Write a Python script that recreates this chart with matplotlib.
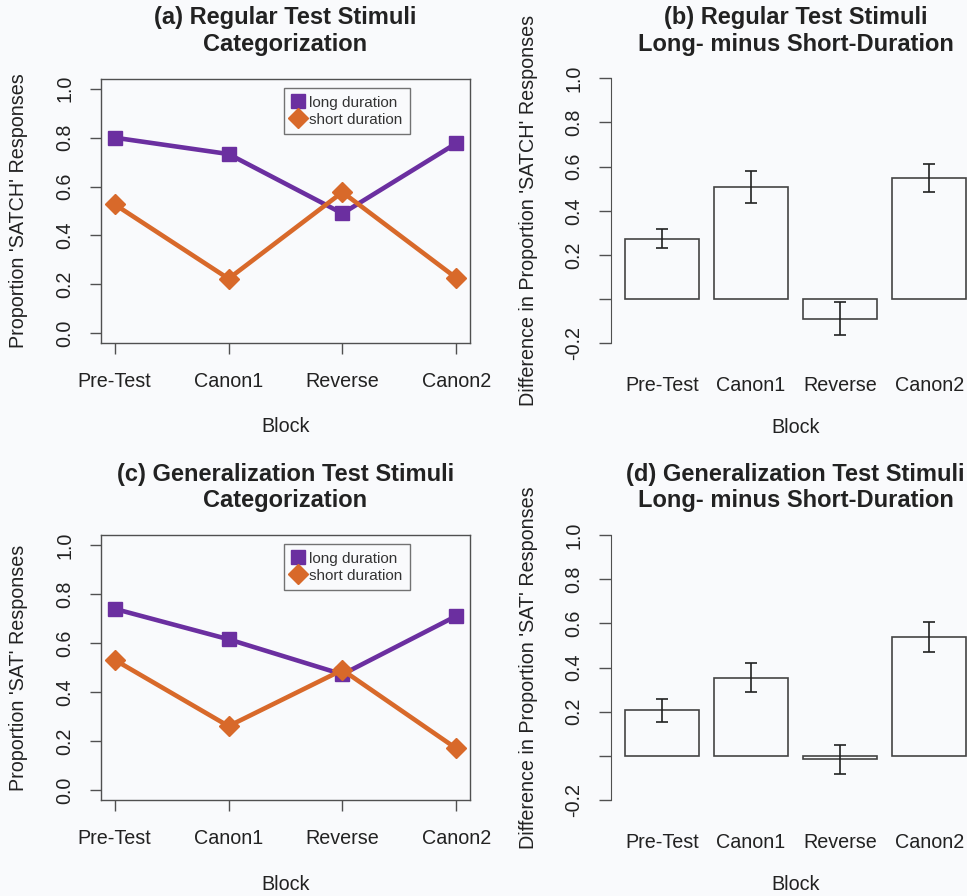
"""
Regular / generalization test stimuli: categorization and long-minus-short differences
"""
import numpy as np
import matplotlib.pyplot as plt
from matplotlib.lines import Line2D

blocks = ["Pre-Test", "Canon1", "Reverse", "Canon2"]

# proportions (line panels)
reg_long = [0.80, 0.733, 0.49, 0.777]
reg_short = [0.527, 0.223, 0.577, 0.226]
gen_long = [0.739, 0.615, 0.472, 0.71]
gen_short = [0.531, 0.261, 0.49, 0.170]

# long minus short differences (bar panels)
reg_diff = [0.274, 0.507, -0.089, 0.547]
reg_err = [0.043, 0.072, 0.075, 0.063]
gen_diff = [0.208, 0.354, -0.015, 0.537]
gen_err = [0.052, 0.065, 0.065, 0.068]

purple = "#6b2fa0"
orange = "#d8692a"
bg = "#f9fafc"
ink = "#222222"
axc = "#505050"

plt.rcParams["font.family"] = ["Liberation Sans", "DejaVu Sans"]
plt.rcParams["text.color"] = ink
plt.rcParams["axes.labelcolor"] = ink
plt.rcParams["xtick.color"] = axc
plt.rcParams["ytick.color"] = axc
plt.rcParams["xtick.labelcolor"] = ink
plt.rcParams["ytick.labelcolor"] = ink

W, H = 967, 896
fig = plt.figure(figsize=(W / 100, H / 100), dpi=100, facecolor=bg)

def px_axes(x0, x1, y0, y1):
    return fig.add_axes([x0 / W, 1 - y1 / H, (x1 - x0) / W, (y1 - y0) / H])

tick_fs = 14.2
title_fs = 17

def line_panel(ax, long_vals, short_vals, ylabel):
    ax.set_facecolor(bg)
    x = np.arange(1, len(blocks) + 1)
    ax.plot(x, long_vals, color=purple, lw=3.3, marker="s", ms=10, zorder=3)
    ax.plot(x, short_vals, color=orange, lw=3.3, marker="D", ms=10, zorder=3)
    ax.set_xlim(0.88, 4.12)
    ax.set_ylim(-0.04, 1.04)
    ax.set_xticks(x)
    ax.set_xticklabels(blocks, fontsize=tick_fs)
    yt = np.arange(0, 1.01, 0.2)
    ax.set_yticks(yt)
    ax.set_yticklabels([f"{v:.1f}" for v in yt], fontsize=tick_fs,
                       rotation=90, va="center")
    ax.tick_params(axis="x", length=8, width=1, pad=13)
    ax.tick_params(axis="y", length=8, width=1, pad=11)
    for s in ax.spines.values():
        s.set_color(axc)
        s.set_linewidth(1)
    ax.set_xlabel("Block", fontsize=tick_fs)
    ax.xaxis.set_label_coords(0.5, -0.318)
    ax.xaxis.label.set_va("center")
    ax.set_ylabel(ylabel, fontsize=tick_fs)
    ax.yaxis.set_label_coords(-0.223, 0.5)
    ax.yaxis.label.set_va("center")
    handles = [Line2D([], [], color=purple, marker="s", ls="none", ms=10),
               Line2D([], [], color=orange, marker="D", ls="none", ms=10)]
    leg = ax.legend(handles, ["long duration", "short duration"],
                    loc="upper left", bbox_to_anchor=(0.496, 0.966),
                    fontsize=11, frameon=True, fancybox=False,
                    borderaxespad=0, borderpad=0.5, handlelength=0.8,
                    handletextpad=0.35, labelspacing=0.2)
    for t in leg.get_texts():
        t.set_color("#333333")
    leg.get_frame().set_edgecolor(axc)
    leg.get_frame().set_linewidth(1)
    leg.get_frame().set_facecolor(bg)

def bar_panel(ax, diff, err, ylabel):
    ax.set_facecolor(bg)
    centers = 0.7 + 1.2 * np.arange(len(blocks))
    ax.bar(centers, diff, width=1, color=bg, edgecolor="#444444", lw=1.2)
    ax.errorbar(centers, diff, yerr=err, fmt="none", ecolor="#222222",
                elinewidth=1.2, capsize=4, capthick=1.2)
    ax.set_xlim(0.016, 4.984)
    ax.set_ylim(-0.248, 1.048)
    ax.set_xticks(centers)
    ax.set_xticklabels(blocks, fontsize=tick_fs)
    ax.tick_params(axis="x", length=0, pad=16)
    yt = np.round(np.arange(-0.2, 1.01, 0.2), 1)
    ax.set_yticks(yt)
    ax.set_yticklabels(["" if abs(v) < 1e-9 else f"{v:.1f}" for v in yt],
                       fontsize=tick_fs, rotation=90, va="center")
    ax.tick_params(axis="y", length=9, width=1, pad=11)
    for k in ["top", "right", "bottom"]:
        ax.spines[k].set_visible(False)
    ax.spines["left"].set_bounds(-0.2, 1.0)
    ax.spines["left"].set_color(axc)
    ax.set_xlabel("Block", fontsize=tick_fs)
    ax.xaxis.set_label_coords(0.5, -0.256)
    ax.xaxis.label.set_va("center")
    ax.set_ylabel(ylabel, fontsize=tick_fs)
    ax.yaxis.set_label_coords(-0.224, 0.5)
    ax.yaxis.label.set_va("center")

ax_a = px_axes(101, 470, 79, 343)
line_panel(ax_a, reg_long, reg_short, "Proportion 'SATCH' Responses")
ax_b = px_axes(611.3, 980, 67.7, 354)
bar_panel(ax_b, reg_diff, reg_err, "Difference in Proportion 'SATCH' Responses")
ax_c = px_axes(101, 470, 535, 800)
line_panel(ax_c, gen_long, gen_short, "Proportion 'SAT' Responses")
ax_d = px_axes(611.3, 980, 524.4, 810.8)
bar_panel(ax_d, gen_diff, gen_err, "Difference in Proportion 'SAT' Responses")

titles = [
    (285.5, 31, "(a) Regular Test Stimuli\nCategorization"),
    (795.5, 31, "(b) Regular Test Stimuli\nLong- minus Short-Duration"),
    (285.5, 487.5, "(c) Generalization Test Stimuli\nCategorization"),
    (795.5, 487.5, "(d) Generalization Test Stimuli\nLong- minus Short-Duration"),
]
for x, y, t in titles:
    fig.text(x / W, 1 - y / H, t, ha="center", va="center",
             fontsize=title_fs, fontweight="bold", linespacing=1.2)

fig.savefig("out.png", dpi=100, facecolor=bg)
